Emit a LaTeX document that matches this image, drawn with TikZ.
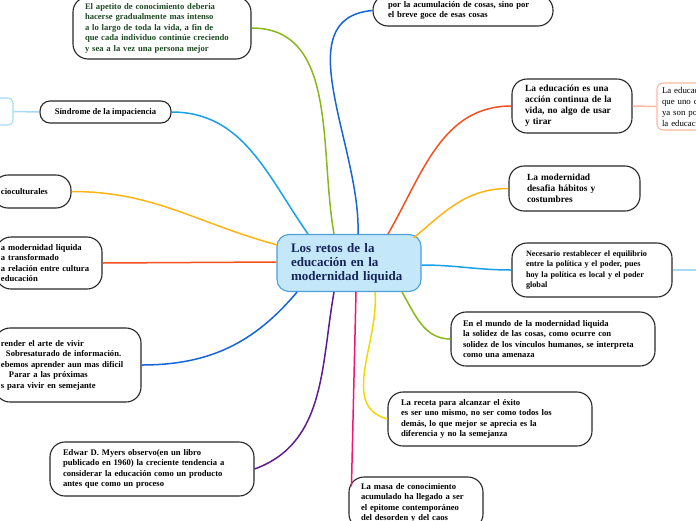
\documentclass[tikz,border=0pt]{standalone}
\usepackage{fontspec}
\setmainfont{Liberation Serif}
\usetikzlibrary{positioning}
\definecolor{HubFill}{HTML}{C4E8F9}
\definecolor{HubLine}{HTML}{4E9ED8}
\definecolor{HubText}{HTML}{16245A}
\definecolor{ApGreen}{HTML}{1D4A22}
\definecolor{LnGreen}{HTML}{8AB81C}
\definecolor{LnSky}{HTML}{19A0E6}
\definecolor{LnOrange}{HTML}{FDB515}
\definecolor{LnRed}{HTML}{F4511E}
\definecolor{LnBlue}{HTML}{1565D8}
\definecolor{LnPurple}{HTML}{5E1C8E}
\definecolor{LnPink}{HTML}{F0157A}
\definecolor{LnYellow}{HTML}{F0D800}
\definecolor{LnPale}{HTML}{A6DBF5}
\definecolor{LnSalmon}{HTML}{F9B8A0}

\begin{document}
\begin{tikzpicture}[x=1pt,y=-1pt,
			every node/.style={font=\bfseries\fontsize{8.6}{10.5}\selectfont, align=left, inner sep=0pt},
			topic/.style={draw=black!85, line width=1.1pt, rounded corners=15pt},
			hub/.style={draw=HubLine, fill=HubFill, line width=1.1pt, rounded corners=12pt, text=HubText, font=\bfseries\fontsize{13}{14}\selectfont},
			link/.style={line width=1.5pt}
		]
			\useasboundingbox (0,0) rectangle (696,520);
			\clip (0,0) rectangle (696,520);

			\node (ctr) [hub, minimum width=144pt, minimum height=57pt, text width=116pt] at (349,263)
			{Los retos de la\\ educación en la\\ modernidad liquida};

			\node (apetito) [topic, minimum width=178pt, minimum height=62pt, text width=154pt, text=ApGreen] at (162,28)
			{El apetito de conocimiento deberia\\ hacerse gradualmente mas intenso\\ a lo largo de toda la vida, a fin de\\ que cada individuo continúe creciendo\\ y sea a la vez una persona mejor};
			\node (acum) [topic, minimum width=180pt, minimum height=31pt, text width=150pt] at (463,10.5)
			{por la acumulación de cosas, sino por\\ el breve goce de esas cosas};
			\node (sindrome) [topic, rounded corners=10pt, minimum width=131pt, minimum height=22pt] at (105.5,112)
			{Síndrome de la impaciencia};
			\node (leftbox) [draw=LnPale, line width=1.1pt, rounded corners=5pt, minimum width=33pt, minimum height=27pt] at (-3.5,111.5) {};
			\node (socio) [topic, minimum width=78pt, minimum height=33pt, text width=62pt] at (32,191.5)
			{cioculturales};
			\node (liquida) [topic, minimum width=106pt, minimum height=52pt, text width=96pt] at (49,263)
			{a modernidad liquida\\ a transformado\\ a relación entre cultura\\ educación};
			\node (aprender) [topic, minimum width=146pt, minimum height=74pt, text width=134pt] at (68,365)
			{render el arte de vivir\\ \hspace*{5pt}Sobresaturado de información.\\ ebemos aprender aun mas dificil\\ \hspace*{8pt}Parar a las próximas\\ s para vivir en semejante};
			\node (myers) [topic, minimum width=204pt, minimum height=54pt, text width=178pt] at (152,469)
			{Edwar D. Myers observo(en un libro\\ publicado en 1960)  la creciente tendencia a\\ considerar la educación como un producto\\ antes que como un proceso};
			\node (masa) [topic, minimum width=134pt, minimum height=52pt, text width=110pt] at (416,503)
			{La masa de conocimiento\\ acumulado ha llegado a ser\\ el epitome contemporáneo\\ del desorden y del caos};
			\node (receta) [topic, minimum width=204pt, minimum height=54pt, text width=178pt] at (490,419)
			{La receta para alcanzar el éxito\\ es ser uno mismo, no ser como todos los\\ demás, lo que mejor se aprecia es la\\ diferencia y no la semejanza};
			\node (mundo) [topic, minimum width=204pt, minimum height=54pt, text width=180pt] at (553,339)
			{En el mundo de la modernidad liquida\\ la solidez de las cosas, como ocurre con\\ solidez de los vínculos humanos, se interpreta\\ como una amenaza};
			\node (necesario) [topic, minimum width=160pt, minimum height=54pt, text width=132pt, font=\bfseries\fontsize{8.2}{10.5}\selectfont] at (592,270)
			{Necesario restablecer el equilibrio\\ entre la política y el poder, pues\\ hoy la política es local y el poder\\ global};
			\node (desafia) [topic, minimum width=131pt, minimum height=45pt, text width=95pt, font=\bfseries\fontsize{9.4}{11}\selectfont] at (574.5,188.5)
			{La modernidad\\ desafia hábitos y\\ costumbres};
			\node (educ) [topic, minimum width=120pt, minimum height=54pt, text width=94pt, font=\bfseries\fontsize{9.4}{11}\selectfont] at (572,106)
			{La educación es una\\ acción continua de la\\ vida, no algo de usar\\ y tirar};
			\node (pinkbox) [draw=LnSalmon, line width=1.1pt, rounded corners=6pt, minimum width=70pt, minimum height=47pt, text width=60pt, font=\fontsize{8.8}{11}\selectfont] at (692,106.5)
			{La educac\\ que uno c\\ ya son po\\ la educac};
			\coordinate (rightend) at (700,270);

			\draw[link, LnGreen] ([shift={(-15,0)}]ctr.north) to[out=100, in=0] (apetito.east);
			\draw[link, LnSky] ([shift={(-41,0)}]ctr.north) to[out=125, in=0] (sindrome.east);
			\draw[link, LnBlue] ([shift={(9,0)}]ctr.north) to[out=88, in=185] (acum.west);
			\draw[link, LnRed] ([shift={(39,0)}]ctr.north) to[out=60, in=180] (educ.west);
			\draw[link, LnOrange] ([shift={(-8,4)}]ctr.north east) to[out=40, in=180] (desafia.west);
			\draw[link, LnSky] ([shift={(0,2)}]ctr.east) to[out=0, in=180] (necesario.west);
			\draw[link, LnGreen] ([shift={(53,0)}]ctr.south) to[out=-60, in=180] (mundo.west);
			\draw[link, LnYellow] ([shift={(26,0)}]ctr.south) to[out=-85, in=165] (receta.west);
			\draw[link, LnPink] ([shift={(7,0)}]ctr.south) -- ([shift={(3,10)}]masa.north west);
			\draw[link, LnPurple] ([shift={(-15,0)}]ctr.south) to[out=-100, in=20] (myers.east);
			\draw[link, LnBlue] ([shift={(-52,0)}]ctr.south) to[out=-130, in=0] (aprender.east);
			\draw[link, LnRed] ([shift={(0,-1)}]ctr.west) -- (liquida.east);
			\draw[link, LnOrange] ([shift={(1,-18)}]ctr.west) to[out=165, in=0] (socio.east);
			\draw[link, LnSalmon] (educ.east) -- (pinkbox.west);
			\draw[link, LnPale] (necesario.east) -- (rightend);
			\draw[link, LnPale] (leftbox.east) -- (sindrome.west);
		\end{tikzpicture}
\end{document}
